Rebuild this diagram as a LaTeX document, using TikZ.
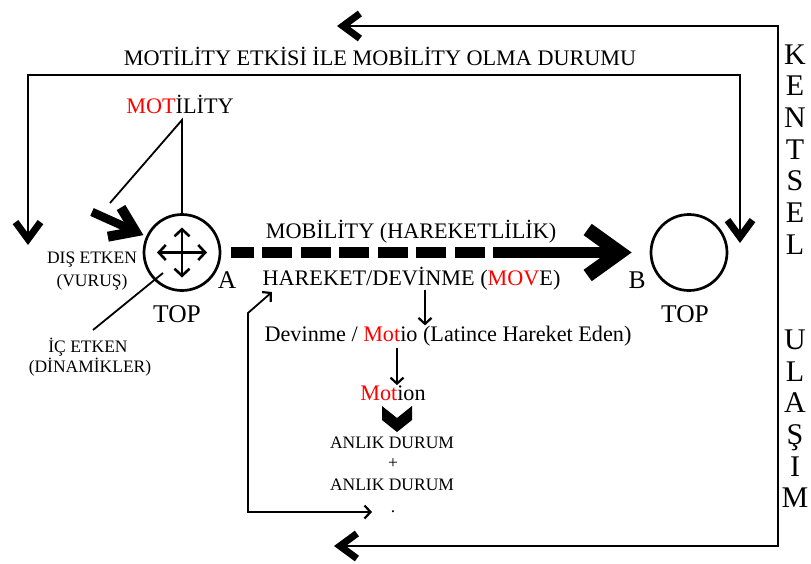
\documentclass[tikz,border=0pt]{standalone}
\usepackage{fontspec}
\setmainfont{Liberation Serif}
\usetikzlibrary{arrows.meta}
\definecolor{hl}{RGB}{255,0,0}

\tikzset{
  Chev/.tip={Straight Barb[length=17pt,width=25pt,line width=7pt,sharp]},
  Barb/.tip={Straight Barb[length=6pt,width=13pt,line width=2.2pt]},
  Cross/.tip={Straight Barb[length=7pt,width=15pt,line width=2.6pt]},
  Fat/.tip={Straight Barb[length=23pt,width=32pt,line width=10pt,sharp]},
  Head/.tip={Straight Barb[length=32pt,width=46pt,line width=14pt,sharp]},
  lbl/.style={inner sep=0pt, anchor=base, font=\fontsize{22.2}{26}\selectfont},
  small/.style={lbl, font=\fontsize{17.5}{20}\selectfont},
  big/.style={lbl, font=\fontsize{25.5}{30}\selectfont},
  col/.style={lbl, font=\fontsize{30}{32}\selectfont},
  ball/.style={circle, draw, line width=2.7pt, minimum size=76pt, inner sep=0pt},
  frame/.style={line width=1.9pt},
  thinln/.style={line width=1.8pt},
  fatarrow/.style={line width=8.5pt, -Fat},
  mobarrow/.style={line width=11pt, -Head,
    dash pattern={on 23pt off 8pt on 30pt off 8.5pt on 30pt off 8.5pt on 30pt off 8.5pt
      on 30pt off 8.5pt on 30pt off 8.5pt on 30pt off 8.5pt on 400pt}}
}

\begin{document}
\begin{tikzpicture}[x=1pt,y=-1pt]
\useasboundingbox (0,0) rectangle (811,563);

% texts
\node[lbl] (title) at (380,65) {MOTİLİTY ETKİSİ İLE MOBİLİTY OLMA DURUMU};
\node[lbl] (motility) at (180,113) {\textcolor{hl}{MOT}İLİTY};
\node[lbl] (mobility) at (411,238) {MOBİLİTY (HAREKETLİLİK)};
\node[lbl] (hareket) at (411.5,285) {HAREKET/DEVİNME (\textcolor{hl}{MOV}E)};
\node[lbl] (devinme) at (448,341) {Devinme / \textcolor{hl}{Mot}io (Latince Hareket Eden)};
\node[lbl] (motion) at (393,400) {\textcolor{hl}{Mot}ion};
\node[small] (anlik1) at (392,448) {ANLIK DURUM};
\node[small] (plus) at (393,468) {+};
\node[small] (anlik2) at (392,490) {ANLIK DURUM};
\node[small] (dot) at (393,512) {.};
\node[small] (dis) at (92,263) {DIŞ ETKEN};
\node[small] (vurus) at (92,286) {(VURUŞ)};
\node[small] (ic) at (88,352) {İÇ ETKEN};
\node[small] (dinamik) at (90,372) {(DİNAMİKLER)};

% the two balls
\node[ball] (topA) at (182,252.5) {};
\node[ball] (topB) at (689,252.5) {};
\node[big] (labA) at (227,288) {A};
\node[big] (labB) at (637,288) {B};
\node[big] (topAlbl) at (177,322) {TOP};
\node[big] (topBlbl) at (685,322) {TOP};

% vertical caption on the right
\foreach \ch [count=\i] in {K,E,N,T,S,E,L,{},{},U,L,A,Ş,I,M}
  \node[col] (k\i) at (795,{64+31.7*(\i-1)}) {\ch};

% outer frame (KENTSEL ULAŞIM)
\coordinate (oTop) at (337,26);
\coordinate (oTR) at (778,26);
\coordinate (oBR) at (778,546);
\coordinate (oBot) at (334,546);
\draw[frame, Chev-Chev] (oTop) -- (oTR) -- (oBR) -- (oBot);

% inner frame (motility -> mobility)
\coordinate (iL) at (28,245);
\coordinate (iTL) at (28,75);
\coordinate (iTR) at (740,75);
\coordinate (iR) at (740,243);
\draw[frame, Chev-Chev] (iL) -- (iTL) -- (iTR) -- (iR);

% motility branches
\coordinate (apex) at (182,120);
\coordinate (mend) at (110,203);
\draw[thinln] (mend) -- (apex) -- (topA);

% external push
\coordinate (fatTail) at (92,212);
\draw[fatarrow, shorten >=3pt] (fatTail) -- (topA);

% internal dynamics
\coordinate (icOut) at (93,330);
\coordinate (icIn) at (163,273);
\draw[thinln] (icOut) -- (icIn);

% four-way arrow inside ball A
\draw[line width=2.5pt, Cross-Cross] ([xshift=-25pt]topA.center) -- ([xshift=25pt]topA.center);
\draw[line width=2.5pt, Cross-Cross] ([yshift=25pt]topA.center) -- ([yshift=-25pt]topA.center);

% mobility arrow A -> B
\draw[mobarrow, shorten <=10pt, shorten >=18pt] (topA) -- (topB);

% derivation chain
\coordinate (hx) at (425,0);
\coordinate (mx) at (397,0);
\draw[thinln, -Barb] (hareket.south -| hx) -- (devinme.north -| hx);
\draw[thinln, -Barb, shorten <=2pt] (devinme.south -| mx) -- (motion.north -| mx);
\fill (382,406) -- (397,418) -- (412,406) -- (412,420) -- (397,432) -- (382,420) -- cycle;

% feedback from the instant states
\coordinate (fb0) at (372,512);
\coordinate (fb1) at (248,512);
\coordinate (fb2) at (248,313);
\coordinate (fb3) at (272,292);
\draw[thinln, Barb-Barb] (fb0) -- (fb1) -- (fb2) -- (fb3);
\end{tikzpicture}
\end{document}
